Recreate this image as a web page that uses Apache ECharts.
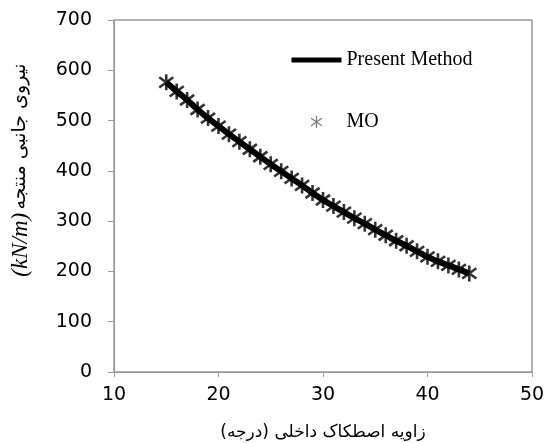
<!DOCTYPE html>
<html>
<head>
<meta charset="utf-8">
<script src="https://cdn.jsdelivr.net/npm/echarts@6/dist/echarts.min.js"></script>
<style>
  html, body { margin: 0; padding: 0; background: #fff; }
  #chart { width: 552px; height: 443px; }
</style>
</head>
<body>
<div id="chart"></div>
<script>
// زاویه اصطکاک داخلی (درجه)
var phi = [15, 16, 17, 18, 19, 20, 21, 22, 23, 24, 25, 26, 27, 28, 29,
  30, 31, 32, 33, 34, 35, 36, 37, 38, 39, 40, 41, 42, 43, 44];
// Present Method
var presentValues = [576, 558, 541, 522, 505, 489, 473, 458, 443, 428, 413, 399, 385, 371, 356,
  342, 330, 318, 306, 295, 283, 272, 261, 251, 240, 229, 220, 212, 204, 196];
// MO
var moValues = [576, 558, 541, 522, 505, 489, 473, 458, 443, 428, 413, 399, 385, 371, 356,
  342, 330, 318, 306, 295, 283, 272, 261, 251, 240, 229, 220, 212, 204, 196];
var xTicks = [10, 20, 30, 40, 50];
var yTicks = [0, 100, 200, 300, 400, 500, 600, 700];

var star = 'path://M5,0L5,10M0.6,1.8L9.4,8.2M0.6,8.2L9.4,1.8';

function pairs(xs, ys) {
  return xs.map(function (x, i) { return [x, ys[i]]; });
}

(function () {
  var myChart = echarts.init(document.getElementById('chart'));
  var option = {
    animation: false,
    backgroundColor: '#fff',
    grid: {
      left: 114,
      right: 20,
      top: 20,
      bottom: 71,
      outerBoundsMode: 'none',
      show: true,
      borderColor: '#666',
      borderWidth: 1
    },
    legend: {
      orient: 'vertical',
      left: 284,
      top: 45,
      itemWidth: 50,
      itemHeight: 12,
      itemGap: 42,
      textStyle: {
        fontFamily: 'Liberation Serif',
        fontSize: 20,
        color: '#000'
      },
      data: [
        { name: 'Present Method', itemStyle: { opacity: 0 }, lineStyle: { width: 5, color: '#000' } },
        { name: 'MO', itemStyle: { borderColor: '#555', borderWidth: 1.2 } }
      ]
    },
    xAxis: {
      type: 'value',
      min: xTicks[0],
      max: xTicks[xTicks.length - 1],
      interval: 10,
      name: 'زاویه اصطکاک داخلی (درجه)\u200F',
      nameLocation: 'middle',
      nameGap: 52,
      nameTextStyle: {
        fontFamily: 'DejaVu Sans',
        fontSize: 17,
        color: '#000'
      },
      axisLine: { lineStyle: { color: '#999' } },
      axisTick: { show: true, length: 5, lineStyle: { color: '#999' } },
      axisLabel: {
        fontFamily: 'DejaVu Sans',
        fontSize: 19,
        color: '#000',
        margin: 14
      },
      splitLine: { show: false }
    },
    yAxis: {
      type: 'value',
      min: yTicks[0],
      max: yTicks[yTicks.length - 1],
      interval: 100,
      name: '{u|(kN/m)} {p|نیروی جانبی منتجه}',
      nameLocation: 'middle',
      nameGap: 82,
      nameTextStyle: {
        color: '#000',
        padding: [0, 0, 0, 52],
        rich: {
          u: { fontFamily: 'Liberation Serif', fontStyle: 'italic', fontSize: 23, color: '#000' },
          p: { fontFamily: 'DejaVu Sans', fontSize: 19, color: '#000' }
        }
      },
      axisLine: { show: true, lineStyle: { color: '#999' } },
      axisTick: { show: true, length: 6, lineStyle: { color: '#999' } },
      axisLabel: {
        fontFamily: 'DejaVu Sans',
        fontSize: 19,
        color: '#000',
        margin: 22
      },
      splitLine: { show: false }
    },
    series: [
      {
        name: 'Present Method',
        type: 'line',
        smooth: true,
        symbol: 'none',
        lineStyle: { color: '#000', width: 6 },
        itemStyle: { color: '#000' },
        data: pairs(phi, presentValues)
      },
      {
        name: 'MO',
        type: 'scatter',
        symbol: star,
        symbolSize: 16,
        symbolKeepAspect: true,
        itemStyle: {
          color: 'none',
          borderColor: '#000',
          borderWidth: 2.6
        },
        z: 3,
        data: pairs(phi, moValues)
      }
    ]
  };
  myChart.setOption(option);
  window.addEventListener('resize', function () {
    myChart.resize();
  });
})();
</script>
</body>
</html>
